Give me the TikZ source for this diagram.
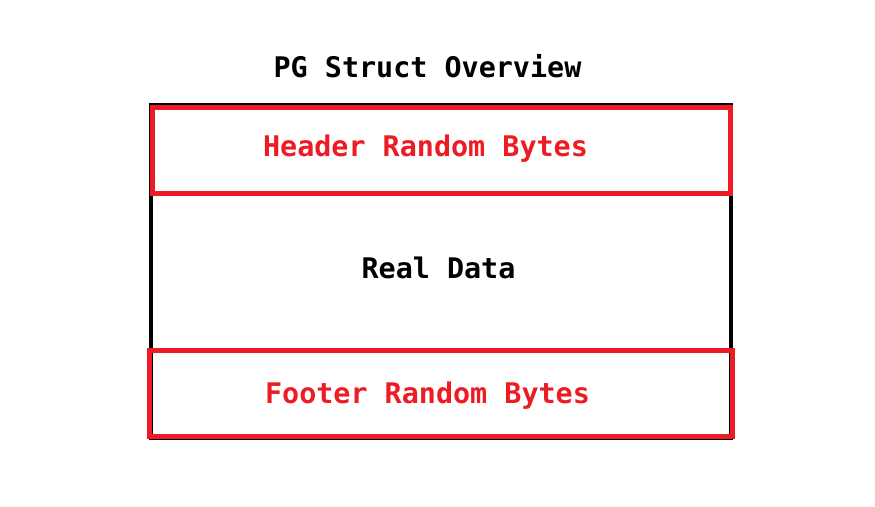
\documentclass[tikz,border=0pt]{standalone}
\usepackage{fontspec}
\setmonofont{DejaVu Sans Mono}
\definecolor{pgred}{RGB}{237,28,36}
\begin{document}
\begin{tikzpicture}[x=1pt,y=-1pt,
  box/.style={draw,inner sep=0pt,outer sep=0pt,anchor=north west},
  lbl/.style={inner sep=0pt,anchor=base,font=\ttfamily\bfseries\fontsize{28.4}{34}\selectfont}]
\useasboundingbox (0,0) rectangle (875,506);
\node[box,line width=4pt,minimum width=580pt,minimum height=333.5pt] (outer) at (150.5,104.5) {};
\node[box,draw=pgred,line width=5pt,minimum width=578pt,minimum height=85.5pt] (header) at (152,107.5) {};
\node[box,draw=pgred,line width=5pt,minimum width=582.5pt,minimum height=86.5pt] (footer) at (149.5,350) {};
\node[lbl] (title) at (427.5,77) {PG Struct Overview};
\node[lbl,text=pgred] (htext) at (425.5,156) {Header Random Bytes};
\node[lbl] (rtext) at (438.5,278) {Real Data};
\node[lbl,text=pgred] (ftext) at (427.5,403) {Footer Random Bytes};
\end{tikzpicture}
\end{document}
